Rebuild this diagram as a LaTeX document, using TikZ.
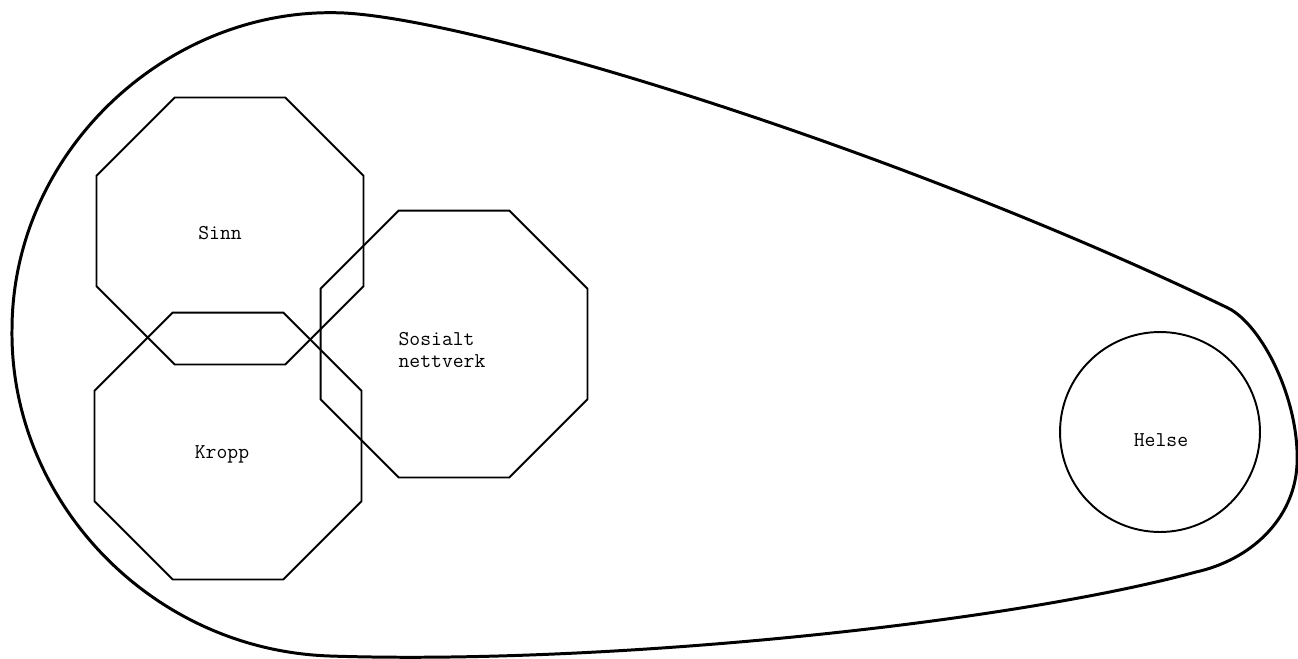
\documentclass[tikz,border=0pt]{standalone}
\usepackage{tikz}
\usetikzlibrary{shapes.geometric}

\begin{document}
\begin{tikzpicture}[x=0.02cm,y=-0.02cm]
        \tikzset{octa/.style={draw,line width=1.1pt,regular polygon,regular polygon sides=8,inner sep=0pt,minimum size=5.78cm},
          ring/.style={draw,line width=1.1pt,circle,inner sep=0pt,minimum size=4cm},
          word/.style={inner sep=0pt,align=left,font=\fontsize{12}{12}\selectfont\ttfamily}}
        \useasboundingbox (0,0) rectangle (1298,659);
        % outer drop shape
        \draw[line width=1.7pt] (344,13) .. controls (480,20) and (900,150) .. (1228,308)
          .. controls (1262,325) and (1300,400) .. (1297,465)
          .. controls (1294,520) and (1250,560) .. (1196,572)
          .. controls (1000,625) and (600,665) .. (330,656)
          .. controls (150,650) and (10,500) .. (12,330)
          .. controls (12,150) and (170,5) .. (344,13) -- cycle;
        \node[octa] (sinn) at (230,231) {};
        \node[octa] (kropp) at (228,446) {};
        \node[octa] (sosialt) at (454,344) {};
        \node[ring] (helse) at (1160,432) {};
        \node[word] (sinn-t) at ([shift={(-10,2)}]sinn.center) {Sinn};
        \node[word] (kropp-t) at ([shift={(-6,8)}]kropp.center) {Kropp};
        \node[word] (sosialt-t) at ([shift={(-12,6)}]sosialt.center) {Sosialt\\nettverk};
        \node[word] (helse-t) at ([shift={(1,8)}]helse.center) {Helse};
      \end{tikzpicture}
\end{document}
